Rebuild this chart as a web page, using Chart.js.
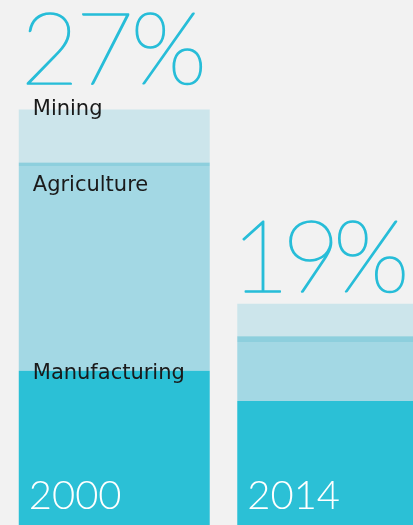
<!DOCTYPE html>
<html>
<head>
<meta charset="utf-8">
<script src="https://cdn.jsdelivr.net/npm/chart.js"></script>
<style>
  html, body { margin: 0; padding: 0; background: #f2f2f2; overflow: hidden; }
  canvas { display: block; }
</style>
</head>
<body>
<canvas id="Canvas" width="442" height="525"></canvas>
<script>
// participação por setor (%)
let anos = ["2000", "2014"];
let totais = ["27%", "19%"];
let manufacturing = [16.25, 15.0];
let agriculture = [8.42, 2.43];
let divisa = [0.14, 0.24];
let mining = [2.19, 1.33];

// textos desenhados por cima das barras
const textos = {
  id: "textos",
  afterDatasetsDraw(chart) {
    let ctx = chart.ctx;
    let barManuf = chart.getDatasetMeta(0).data;
    let barAgri = chart.getDatasetMeta(1).data;
    let barMin = chart.getDatasetMeta(3).data;
    ctx.save();
    ctx.textAlign = "left";
    ctx.textBaseline = "alphabetic";

    // nomes dos setores (so na primeira barra)
    ctx.fillStyle = "#1a1a1a";
    ctx.font = "21px 'DejaVu Sans'";
    let esq = barMin[0].x - barMin[0].width / 2;
    ctx.fillText("Mining", esq + 14, barMin[0].y + 6);
    ctx.fillText("Agriculture", esq + 14, barAgri[0].y + 25);
    ctx.fillText("Manufacturing", esq + 14, barManuf[0].y + 8);

    // total de cada ano acima da barra (hairline engrossado com contorno)
    let subida = [25, 12];
    let recuo = [2, -6];
    let espaco = ["-3px", "-7px"];
    ctx.fillStyle = "#27bdd8";
    ctx.strokeStyle = "#27bdd8";
    ctx.lineWidth = 1.6;
    ctx.lineJoin = "round";
    ctx.font = "100 100px Lato";
    for (let i = 0; i < totais.length; i++) {
      let b = barMin[i];
      ctx.letterSpacing = espaco[i];
      ctx.fillText(totais[i], b.x - b.width / 2 + recuo[i], b.y - subida[i]);
      ctx.strokeText(totais[i], b.x - b.width / 2 + recuo[i], b.y - subida[i]);
    }

    // ano dentro da barra
    ctx.letterSpacing = "0px";
    ctx.fillStyle = "#ffffff";
    ctx.font = "300 40px Lato";
    for (let i = 0; i < anos.length; i++) {
      let b = barManuf[i];
      ctx.fillText(anos[i], b.x - b.width / 2 + 10, chart.chartArea.bottom - 16);
    }
    ctx.restore();
  }
};

let ctx = document.getElementById("Canvas").getContext("2d");

new Chart(ctx, {
  type: "bar",
  data: {
    labels: anos,
    datasets: [
      { label: "Manufacturing", data: manufacturing, backgroundColor: "#2bc0d6" },
      { label: "Agriculture", data: agriculture, backgroundColor: "#a3d8e4" },
      { label: "", data: divisa, backgroundColor: "#8dcfdd" },
      { label: "Mining", data: mining, backgroundColor: "#cce5eb" }
    ]
  },
  options: {
    responsive: false,
    animation: false,
    layout: { padding: { left: 5 } },
    datasets: {
      bar: { barPercentage: 1, categoryPercentage: 0.874, borderWidth: 0 }
    },
    scales: {
      x: { stacked: true, display: false },
      y: { stacked: true, display: false, min: 9.9, max: 31.5 }
    },
    plugins: {
      legend: { display: false },
      tooltip: { enabled: false }
    }
  },
  plugins: [textos]
});
</script>
</body>
</html>
